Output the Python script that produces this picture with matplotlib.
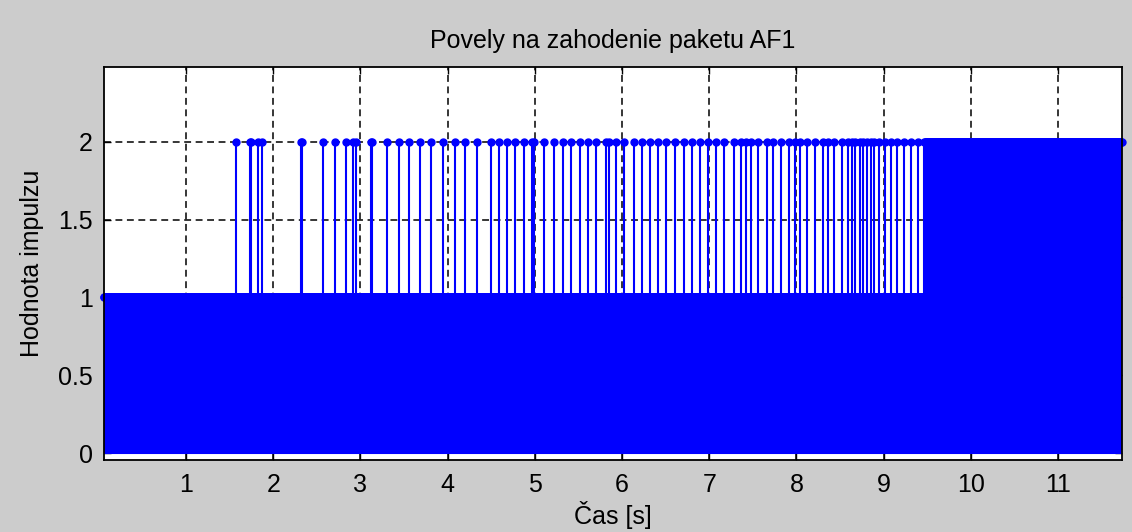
import numpy as np
import matplotlib
matplotlib.use("Agg")
import matplotlib.pyplot as plt

# --- packet timeline -------------------------------------------------------
t_start = 0.06          # first packet [s]
t_burst = 9.48          # from here on every packet is dropped [s]
t_end = 11.73           # last packet [s]
packet_period = 0.004   # spacing of regular packets [s]

pass_level = 1          # impulse value for a forwarded packet
drop_level = 2          # impulse value for a drop command

# individual drop commands issued before the burst [s]
drop_times = [
    1.574, 1.729, 1.740, 1.827, 1.873, 2.320, 2.334, 2.570, 2.710, 2.830,
    2.910, 2.950, 3.120, 3.130, 3.300, 3.437, 3.552, 3.687, 3.809, 3.947,
    4.088, 4.203, 4.338, 4.498, 4.594, 4.682, 4.777, 4.873, 4.969, 4.995,
    5.102, 5.217, 5.325, 5.417, 5.516, 5.607, 5.696, 5.822, 5.845, 5.929,
    6.021, 6.136, 6.232, 6.318, 6.410, 6.507, 6.603, 6.709, 6.806, 6.893,
    6.985, 7.073, 7.169, 7.284, 7.361, 7.418, 7.475, 7.559, 7.667, 7.736,
    7.820, 7.915, 7.980, 8.041, 8.126, 8.210, 8.310, 8.359, 8.432, 8.517,
    8.597, 8.635, 8.673, 8.727, 8.765, 8.804, 8.853, 8.891, 8.948, 9.017,
    9.083, 9.159, 9.236, 9.313, 9.389, 9.465,
]

x_ticks = [1, 2, 3, 4, 5, 6, 7, 8, 9, 10, 11]
y_ticks = [0, 0.5, 1, 1.5, 2]
y_tick_labels = ["0", "0.5", "1", "1.5", "2"]

title = "Povely na zahodenie paketu AF1"
x_label = "Čas [s]"
y_label = "Hodnota impulzu"

# --- signal ------------------------------------------------------------------
packet_t = np.arange(t_start, t_end + packet_period / 2, packet_period)
packet_v = np.where(packet_t >= t_burst, drop_level, pass_level)

t_all = np.concatenate([packet_t, np.asarray(drop_times)])
v_all = np.concatenate([packet_v, np.full(len(drop_times), drop_level)])
order = np.argsort(t_all, kind="stable")
t_all, v_all = t_all[order], v_all[order]

# --- figure ----------------------------------------------------------------
plt.rcParams["font.family"] = ["Liberation Sans", "DejaVu Sans"]
fs = 18

fig = plt.figure(figsize=(11.32, 5.32), dpi=100, facecolor="#cccccc")
ax = fig.add_axes([0.0919, 0.1353, 0.8990, 0.7387])
ax.set_facecolor("white")

blue = "#0000ff"
markers, stems, base = ax.stem(t_all, v_all, linefmt="-", markerfmt="o", basefmt="-")
stems.set_color(blue)
stems.set_linewidth(1.5)
markers.set_color(blue)
markers.set_markersize(5)
markers.set_clip_on(False)
base.set_color(blue)
base.set_linewidth(1.5)

ax.set_xlim(t_start, t_end)
ax.set_ylim(-0.045, 2.48)

ax.set_xticks(x_ticks)
ax.set_xticklabels([str(v) for v in x_ticks])
ax.set_yticks(y_ticks)
ax.set_yticklabels(y_tick_labels)

ax.set_axisbelow(True)
ax.grid(True, color="black", linestyle=(0, (4.5, 3)), linewidth=1.1)

ax.tick_params(direction="in", length=5, width=1.0, top=True, right=True,
               labelsize=fs, colors="black")
ax.tick_params(axis="x", pad=9)
ax.tick_params(axis="y", pad=8)
for sp in ax.spines.values():
    sp.set_linewidth(1.3)
    sp.set_color("black")

ax.set_title(title, fontsize=fs, pad=14)
ax.set_xlabel(x_label, fontsize=fs, labelpad=3)
ax.set_ylabel(y_label, fontsize=fs, labelpad=10)

fig.savefig("out.png", dpi=100, facecolor=fig.get_facecolor())
